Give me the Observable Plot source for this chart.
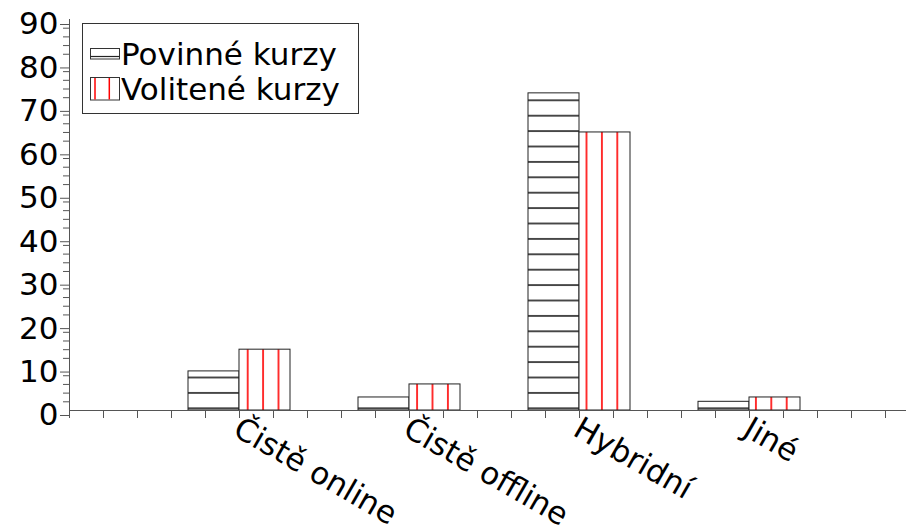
<!DOCTYPE html>
<html>
<head>
<meta charset="utf-8">
<script src="https://cdn.jsdelivr.net/npm/d3@7"></script>
<script src="https://cdn.jsdelivr.net/npm/@observablehq/plot@0.6"></script>
<style>
  html, body { margin: 0; padding: 0; background: white; }
  #chart { width: 906px; height: 531px; }
</style>
</head>
<body>
<div id="chart"></div>
<script>
const categories = ["Čistě online", "Čistě offline", "Hybridní", "Jiné"];
const seriesNames = ["Povinné kurzy", "Volitené kurzy"];
const povinne = [9, 3, 73, 2];
const volitene = [14, 6, 64, 3];
const yTicks = [0, 10, 20, 30, 40, 50, 60, 70, 80, 90];

// layout helpers (slot positions along a linear x scale)
const slot = 5, barW = 1.5, xMax = 837 / 34;
const rowsP = categories.map((c, i) => ({cat: c, series: seriesNames[0], value: povinne[i], x1: (i + 1) * slot - barW, x2: (i + 1) * slot}));
const rowsV = categories.map((c, i) => ({cat: c, series: seriesNames[1], value: volitene[i], x1: (i + 1) * slot, x2: (i + 1) * slot + barW}));
const minorTicks = d3.range(0, 91, 2).filter(v => v % 10 !== 0);
const xTicks = d3.range(0, Math.floor(xMax) + 1);

const font = "DejaVu Sans, Verdana, sans-serif";

const chart = Plot.plot({
  width: 906,
  height: 531,
  marginLeft: 69,
  marginRight: 0,
  marginTop: 19,
  marginBottom: 121,
  style: {fontFamily: font, background: "white", color: "black"},
  x: {domain: [0, xMax], axis: null},
  y: {domain: [0, 90], axis: null},
  marks: [
    Plot.rectY(rowsP, {x1: "x1", x2: "x2", y: "value", fill: "url(#hatchH)", stroke: "#222", strokeWidth: 1}),
    Plot.rectY(rowsV, {x1: "x1", x2: "x2", y: "value", fill: "url(#hatchV)", stroke: "#222", strokeWidth: 1}),
    Plot.axisY({ticks: yTicks, tickSize: 9, tickPadding: 2, fontSize: 31, stroke: "#555", label: null, dy: 5}),
    Plot.axisY({ticks: minorTicks, tickSize: 6, tickFormat: () => "", stroke: "#555", label: null}),
    Plot.axisX({ticks: xTicks, tickSize: 8, tickFormat: () => "", stroke: "#555", label: null}),
    Plot.ruleY([0], {stroke: "#555"}),
    Plot.ruleX([0], {stroke: "#555"}),
    Plot.text(categories, {
      x: (d, i) => (i + 1) * slot,
      frameAnchor: "bottom",
      text: d => d,
      rotate: 30,
      textAnchor: "start",
      lineAnchor: "top",
      dx: 3,
      dy: 5,
      fontSize: 31,
      fill: "black"
    })
  ]
});

const svg = d3.select(chart);
const P = 15.4;
const defs = svg.insert("defs", ":first-child");
const ph = defs.append("pattern").attr("id", "hatchH").attr("patternUnits", "userSpaceOnUse")
  .attr("x", 0).attr("y", 408.3 - P / 2).attr("width", P).attr("height", P);
ph.append("rect").attr("width", P).attr("height", P).attr("fill", "white");
ph.append("line").attr("x1", 0).attr("x2", P).attr("y1", P / 2).attr("y2", P / 2).attr("stroke", "#111").attr("stroke-width", 1.5);
const pv = defs.append("pattern").attr("id", "hatchV").attr("patternUnits", "userSpaceOnUse")
  .attr("x", 247.7 - P / 2).attr("y", 0).attr("width", P).attr("height", P);
pv.append("rect").attr("width", P).attr("height", P).attr("fill", "white");
pv.append("line").attr("y1", 0).attr("y2", P).attr("x1", P / 2).attr("x2", P / 2).attr("stroke", "#ff0000").attr("stroke-width", 1.6);

// legend
const lg = svg.append("g").attr("font-family", font).attr("text-anchor", "start");
lg.append("rect").attr("x", 82.5).attr("y", 23.5).attr("width", 276).attr("height", 90).attr("fill", "white").attr("stroke", "#333");
lg.append("rect").attr("x", 90.5).attr("y", 48.5).attr("width", 29).attr("height", 10.5).attr("fill", "white").attr("stroke", "#333");
lg.append("line").attr("x1", 90.5).attr("x2", 119.5).attr("y1", 56.5).attr("y2", 56.5).attr("stroke", "#222").attr("stroke-width", 1.2);
lg.append("rect").attr("x", 90.5).attr("y", 77.5).attr("width", 29).attr("height", 22.5).attr("fill", "white").attr("stroke", "#333");
[95, 109.3].forEach(x => lg.append("line").attr("x1", x).attr("x2", x).attr("y1", 78).attr("y2", 99.5).attr("stroke", "#ff0000").attr("stroke-width", 1.5));
lg.append("text").attr("x", 121).attr("y", 65).attr("font-size", 31).attr("fill", "black").attr("text-anchor", "start").text(seriesNames[0]);
lg.append("text").attr("x", 121).attr("y", 100).attr("font-size", 31).attr("fill", "black").attr("text-anchor", "start").text(seriesNames[1]);

document.getElementById("chart").appendChild(chart);
</script>
</body>
</html>
